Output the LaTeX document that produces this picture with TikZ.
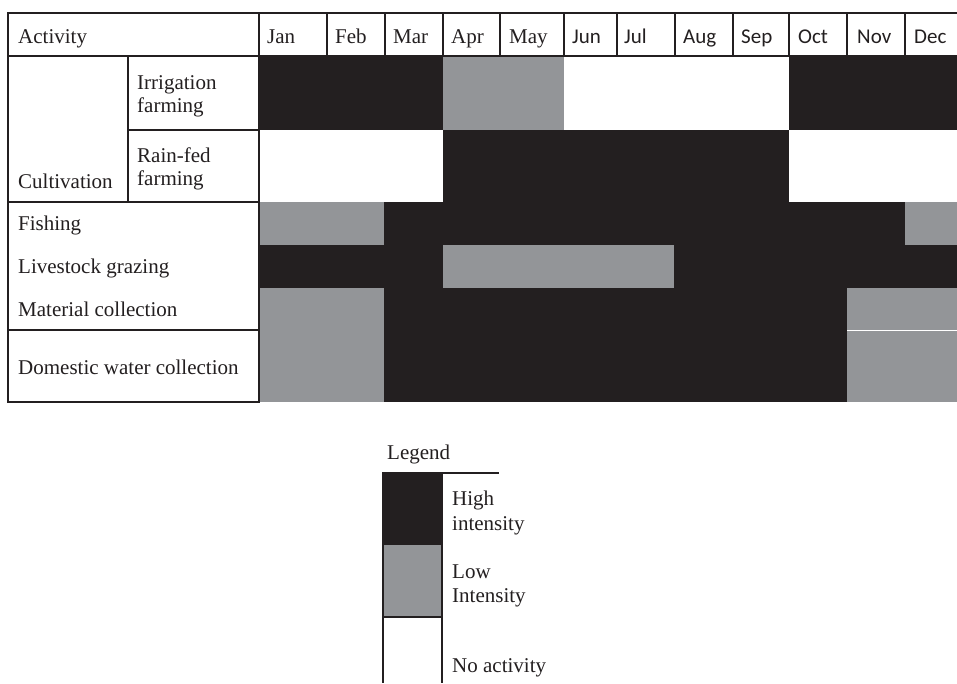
\documentclass[tikz,border=0pt]{standalone}
\usepackage{fontspec}
\setmainfont{Liberation Serif}
\newfontfamily\calfont{Carlito}
\definecolor{hi}{HTML}{231F20}
\definecolor{lo}{HTML}{939598}
\begin{document}
\begin{tikzpicture}[x=1pt,y=-1pt,
  rule/.style={line width=2pt,draw=hi},
  txt/.style={anchor=base west,inner sep=0pt,font=\fontsize{21}{25}\selectfont,text=hi},
  mtxt/.style={anchor=base west,inner sep=0pt,font=\calfont\fontsize{21}{25}\selectfont,text=hi},
  hifill/.style={fill=hi},
  lofill/.style={fill=lo}]
\useasboundingbox (0,0) rectangle (957,683);
\fill[white] (0,0) rectangle (957,683);
% ---- fills ----
% Irrigation
\fill[hifill] (259,56) rectangle (443,130);
\fill[lofill] (443,56) rectangle (564,130);
\fill[hifill] (789,56) rectangle (957,130);
% Rain-fed
\fill[hifill] (443,130) rectangle (789,202);
% Fishing
\fill[lofill] (259,202) rectangle (384,245);
\fill[hifill] (384,202) rectangle (905,245);
\fill[lofill] (905,202) rectangle (957,245);
% Livestock
\fill[hifill] (259,245) rectangle (443,288);
\fill[lofill] (443,245) rectangle (674,288);
\fill[hifill] (674,245) rectangle (957,288);
% Material
\fill[lofill] (259,288) rectangle (384,330);
\fill[hifill] (384,288) rectangle (847,330);
\fill[lofill] (847,288) rectangle (957,330);
% Domestic
\fill[lofill] (259,330) rectangle (384,402);
\fill[hifill] (384,330) rectangle (847,402);
\fill[lofill] (847,330) rectangle (957,402);
\draw[white,line width=0.6pt] (847,330) -- (957,330);
% ---- rules ----
\draw[rule] (8,13) -- (957,13);
\draw[rule] (8,56) -- (957,56);
\draw[rule] (8,12) -- (8,403);
\draw[rule] (259,12) -- (259,403);
\foreach \xx in {327,385,443,500,564,617,675,733,789,847,905}
  \draw[rule] (\xx,13) -- (\xx,56);
\draw[rule] (128,56) -- (128,202);
\draw[rule] (128,130) -- (259,130);
\draw[rule] (8,202) -- (259,202);
\draw[rule] (8,330) -- (259,330);
\draw[rule] (7,402) -- (259,402);
% ---- texts ----
\node[txt] (act) at (18,43) {Activity};
\node[txt] (jan) at (267,43) {Jan};
\node[txt] (feb) at (335,43) {Feb};
\node[txt] (mar) at (393,43) {Mar};
\node[txt] (apr) at (451,43) {Apr};
\node[txt] (may) at (509,43) {May};
\node[mtxt] (jun) at (572,43) {Jun};
\node[mtxt] (jul) at (624,43) {Jul};
\node[mtxt] (aug) at (683,43) {Aug};
\node[mtxt] (sep) at (741,43) {Sep};
\node[mtxt] (oct) at (798,43) {Oct};
\node[mtxt] (nov) at (857,43) {Nov};
\node[mtxt] (dec) at (914,43) {Dec};
\node[txt] (irr1) at (137,89) {Irrigation};
\node[txt] (irr2) at (137,112) {farming};
\node[txt] (rain1) at (137,162) {Rain-fed};
\node[txt] (rain2) at (137,185) {farming};
\node[txt] (cult) at (18,188) {Cultivation};
\node[txt] (fish) at (18,230) {Fishing};
\node[txt] (live) at (18,273) {Livestock grazing};
\node[txt] (mat) at (18,316) {Material collection};
\node[txt] (dom) at (18,374) {Domestic water collection};
% ---- legend ----
\fill[hifill] (383,473) rectangle (442,545);
\fill[lofill] (383,545) rectangle (442,617);
\draw[rule] (383,473) -- (499,473);
\draw[rule] (383,472) -- (383,683);
\draw[rule] (442,472) -- (442,683);
\draw[rule] (383,617) -- (442,617);
\node[txt] (leg) at (387,459) {Legend};
\node[txt] (hi1) at (452,505) {High};
\node[txt] (hi2) at (452,530) {intensity};
\node[txt] (lo1) at (452,578) {Low};
\node[txt] (lo2) at (452,602) {Intensity};
\node[txt] (no) at (452,672) {No activity};
\end{tikzpicture}
\end{document}
